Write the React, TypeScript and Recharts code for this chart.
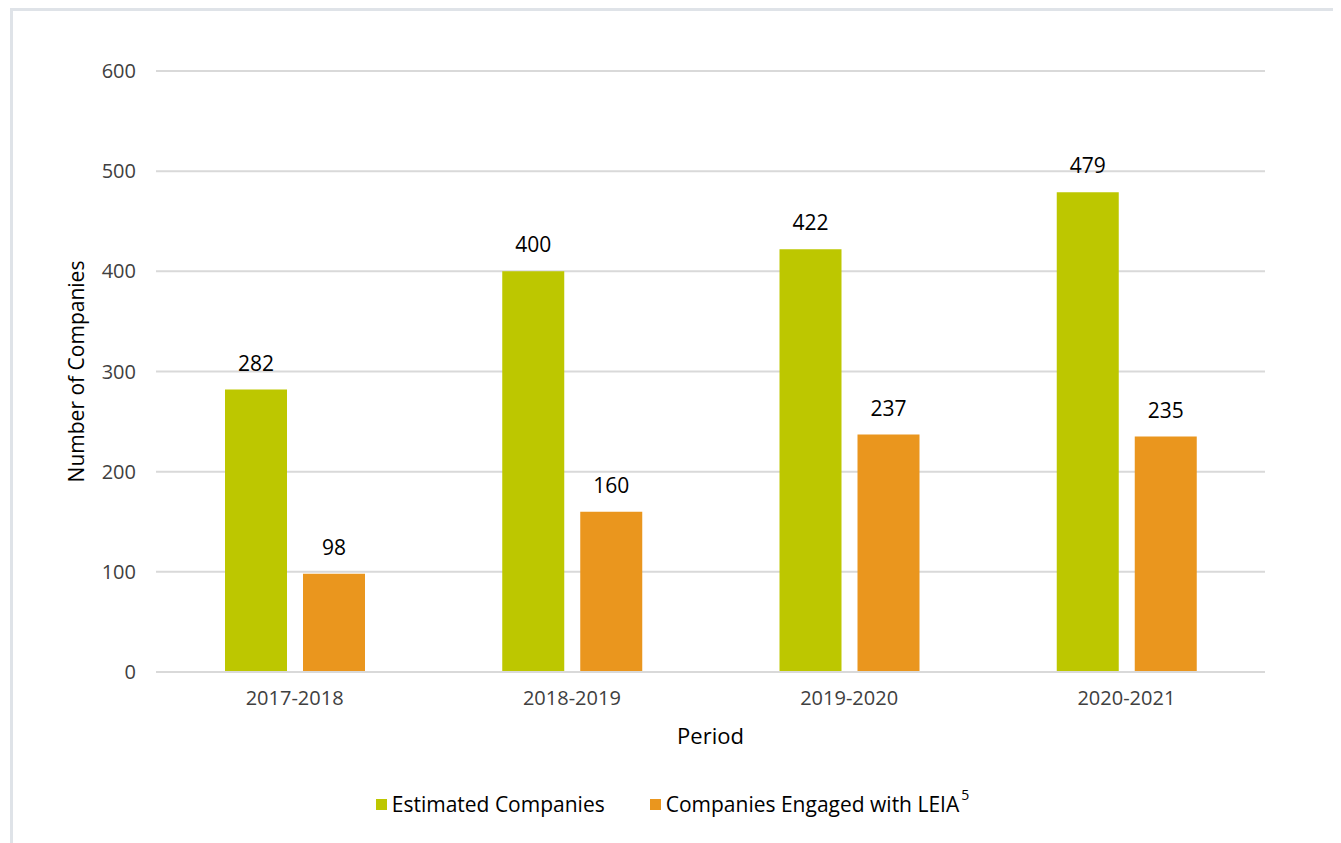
import React from 'react';
import { BarChart, Bar, XAxis, YAxis, CartesianGrid, LabelList, Label, Legend } from 'recharts';

const periods = ['2017-2018', '2018-2019', '2019-2020', '2020-2021'];
const estimatedCompanies = [282, 400, 422, 479];
const engagedCompanies = [98, 160, 237, 235];
const yTicks = [0, 100, 200, 300, 400, 500, 600];
const seriesNames = ['Estimated Companies', 'Companies Engaged with LEIA'];
const seriesFootnotes = ['', '5'];
const seriesColors = ['#BDC700', '#EA961E'];
const xTitle = 'Period';
const yTitle = 'Number of Companies';

const data = periods.map((p, i) => ({
  period: p,
  estimated: estimatedCompanies[i],
  engaged: engagedCompanies[i],
}));

const FONT = '"Open Sans", "Noto Sans", sans-serif';
const W = 1325;
const H = 832;

const renderLegend = (props: any) => {
  const payload = [...(props.payload || [])].sort(
    (a: any, b: any) => seriesNames.indexOf(a.value) - seriesNames.indexOf(b.value)
  );
  return (
    <div
      style={{
        display: 'flex',
        justifyContent: 'center',
        alignItems: 'center',
        gap: 45,
        fontFamily: FONT,
        fontSize: 21,
        color: '#000',
        lineHeight: '26px',
        paddingRight: 6,
      }}
    >
      {payload.map((entry: any, i: number) => {
        const idx = seriesNames.indexOf(entry.value);
        const note = idx >= 0 ? seriesFootnotes[idx] : '';
        return (
          <div key={i} style={{ display: 'flex', alignItems: 'center' }}>
            <span
              style={{
                width: 11,
                height: 11,
                background: entry.color,
                marginRight: 5,
                display: 'inline-block',
              }}
            />
            <span>{entry.value}</span>
            {note ? (
              <span style={{ fontSize: 14, marginLeft: 2, position: 'relative', top: -9 }}>{note}</span>
            ) : null}
          </div>
        );
      })}
    </div>
  );
};

export default function App() {
  return (
    <div
      style={{
        marginLeft: 2,
        width: 1331,
        height: 835,
        boxSizing: 'border-box',
        borderTop: '3px solid #dfe3e8',
        borderLeft: '3px solid #dfe3e8',
        borderRight: '3px solid #dfe3e8',
        background: '#fff',
      }}
    >
      <BarChart
        width={W}
        height={H}
        data={data}
        margin={{ top: 60, right: 73, bottom: 81, left: 0 }}
        barSize={62}
        barGap={16}
      >
        <CartesianGrid vertical={false} stroke="#d9d9d9" strokeWidth={2} />
        <XAxis
          dataKey="period"
          height={90}
          tickSize={0}
          tickMargin={19}
          axisLine={{ stroke: '#d9d9d9', strokeWidth: 2 }}
          tickLine={false}
          tick={{ fill: '#404040', fontSize: 20, fontFamily: FONT }}
        >
          <Label
            value={xTitle}
            position="center"
            dy={19}
            style={{ fill: '#000', fontSize: 22, fontFamily: FONT }}
          />
        </XAxis>
        <YAxis
          width={143}
          domain={[0, 600]}
          ticks={yTicks}
          interval={0}
          tickSize={0}
          tickMargin={20}
          axisLine={false}
          tickLine={false}
          tick={{ fill: '#404040', fontSize: 20, fontFamily: FONT }}
        >
          <Label
            value={yTitle}
            position="center"
            angle={-90}
            dx={-8}
            style={{ fill: '#000', fontSize: 21, fontFamily: FONT, textAnchor: 'middle' }}
          />
        </YAxis>
        <Legend
          content={renderLegend}
          verticalAlign="bottom"
          wrapperStyle={{ top: 780, left: 0, width: W, height: 0 }}
        />
        <Bar dataKey="estimated" name={seriesNames[0]} fill={seriesColors[0]} isAnimationActive={false}>
          <LabelList
            dataKey="estimated"
            position="top"
            offset={19}
            style={{ fill: '#000', fontSize: 21, fontFamily: FONT }}
          />
        </Bar>
        <Bar dataKey="engaged" name={seriesNames[1]} fill={seriesColors[1]} isAnimationActive={false}>
          <LabelList
            dataKey="engaged"
            position="top"
            offset={19}
            style={{ fill: '#000', fontSize: 21, fontFamily: FONT }}
          />
        </Bar>
      </BarChart>
    </div>
  );
}
